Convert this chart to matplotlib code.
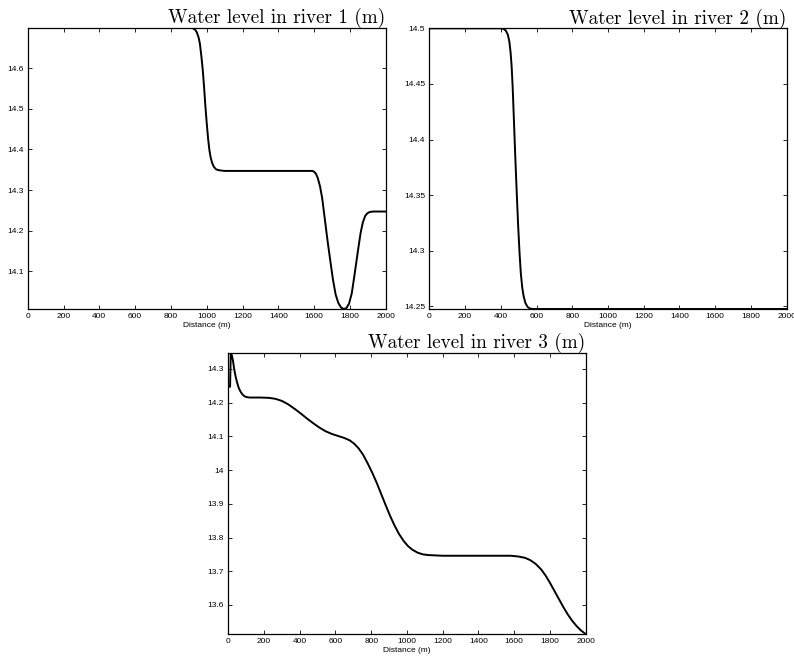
import matplotlib
matplotlib.use("Agg")
import matplotlib.pyplot as plt
from matplotlib.ticker import FuncFormatter

# ---- data ----
x1 = [0, 900, 920, 935, 945, 955, 962, 970, 978, 985, 992, 1000, 1008, 1015,
      1022, 1030, 1040, 1052, 1065, 1080, 1100,
      1590, 1600, 1610, 1620, 1633, 1645, 1655, 1665, 1675, 1690, 1705, 1720,
      1735, 1750, 1765, 1780, 1795, 1810, 1822, 1835, 1848, 1860, 1872, 1885,
      1898, 1912, 1930, 2000]
y1 = [14.6998, 14.6998, 14.699, 14.695, 14.688, 14.675, 14.660, 14.630, 14.595,
      14.555, 14.510, 14.465, 14.425, 14.398, 14.380, 14.367, 14.357, 14.351,
      14.349, 14.348, 14.347,
      14.347, 14.345, 14.340, 14.330, 14.309, 14.280, 14.245, 14.210, 14.175,
      14.127, 14.080, 14.043, 14.022, 14.011, 14.007, 14.009, 14.020, 14.045,
      14.080, 14.120, 14.160, 14.195, 14.220, 14.236, 14.243, 14.246, 14.247,
      14.247]

x2 = [0, 400, 415, 428, 440, 448, 455, 461, 467, 474, 481, 489, 497, 505, 512,
      520, 528, 538, 550, 565, 580, 2000]
y2 = [14.5, 14.5, 14.4995, 14.498, 14.494, 14.488, 14.478, 14.465, 14.445,
      14.415, 14.385, 14.353, 14.323, 14.298, 14.280, 14.267, 14.259, 14.253,
      14.2495, 14.248, 14.2477, 14.2477]

x3 = [0, 10, 14, 20, 26, 33, 40, 48, 57, 67, 78, 90, 105, 120, 180, 230, 265,
      300, 335, 370, 405, 440, 475, 510, 545, 580, 615, 650, 680, 705, 730, 755,
      780, 805, 830, 855, 880, 905, 930, 955, 980, 1005, 1030, 1060, 1090, 1120,
      1160, 1200, 1580, 1620, 1660, 1690, 1720, 1750, 1775, 1800, 1825, 1850,
      1875, 1900, 1925, 1950, 1975, 2000]
y3 = [14.247, 14.247, 14.348, 14.340, 14.325, 14.300, 14.280, 14.262, 14.246,
      14.234, 14.225, 14.219, 14.216, 14.215, 14.215, 14.214, 14.211, 14.205,
      14.195, 14.182, 14.168, 14.153, 14.139, 14.126, 14.115, 14.107, 14.101,
      14.095, 14.088, 14.078, 14.064, 14.045, 14.020, 13.993, 13.963, 13.930,
      13.897, 13.865, 13.836, 13.811, 13.791, 13.775, 13.764, 13.755, 13.750,
      13.748, 13.747, 13.746, 13.746, 13.744, 13.740, 13.733, 13.722, 13.706,
      13.688, 13.666, 13.642, 13.618, 13.594, 13.572, 13.553, 13.537, 13.524,
      13.514]

xticks = [0, 200, 400, 600, 800, 1000, 1200, 1400, 1600, 1800, 2000]
yticks1 = [14.1, 14.2, 14.3, 14.4, 14.5, 14.6]
yticks2 = [14.25, 14.3, 14.35, 14.4, 14.45, 14.5]
yticks3 = [13.6, 13.7, 13.8, 13.9, 14.0, 14.1, 14.2, 14.3]
titles = ["Water level in river 1 (m)", "Water level in river 2 (m)",
          "Water level in river 3 (m)"]
xlabel = "Distance (m)"

fig = plt.figure(figsize=(7.94, 6.57), dpi=100)
rects = [[0.0349, 0.5297, 0.4509, 0.4282],
         [0.5407, 0.5297, 0.4501, 0.4272],
         [0.2875, 0.0350, 0.4501, 0.4282]]
series = [(x1, y1, yticks1), (x2, y2, yticks2), (x3, y3, yticks3)]

fmt = FuncFormatter(lambda v, p: "%g" % round(v, 4))

for rect, (xs, ys, yt), title in zip(rects, series, titles):
    ax = fig.add_axes(rect)
    ax.plot(xs, ys, color="black", lw=1.4, solid_joinstyle="round")
    ax.set_xlim(0, 2000)
    ax.set_ylim(min(ys), max(ys))
    ax.set_xticks(xticks)
    ax.set_yticks(yt)
    ax.yaxis.set_major_formatter(fmt)
    ax.tick_params(direction="in", length=3, width=0.6, top=True, right=True,
                   labelsize=6, pad=3)
    for lab in ax.get_xticklabels() + ax.get_yticklabels():
        lab.set_fontfamily("Liberation Sans")
    for s in ax.spines.values():
        s.set_linewidth(0.9)
    ax.set_xlabel(xlabel, fontsize=6, fontfamily="Liberation Sans", labelpad=1.5)
    ax.set_title(title, loc="right", fontsize=13.8, fontfamily="cmr10", pad=3.5)

fig.savefig("out.png", dpi=100)
